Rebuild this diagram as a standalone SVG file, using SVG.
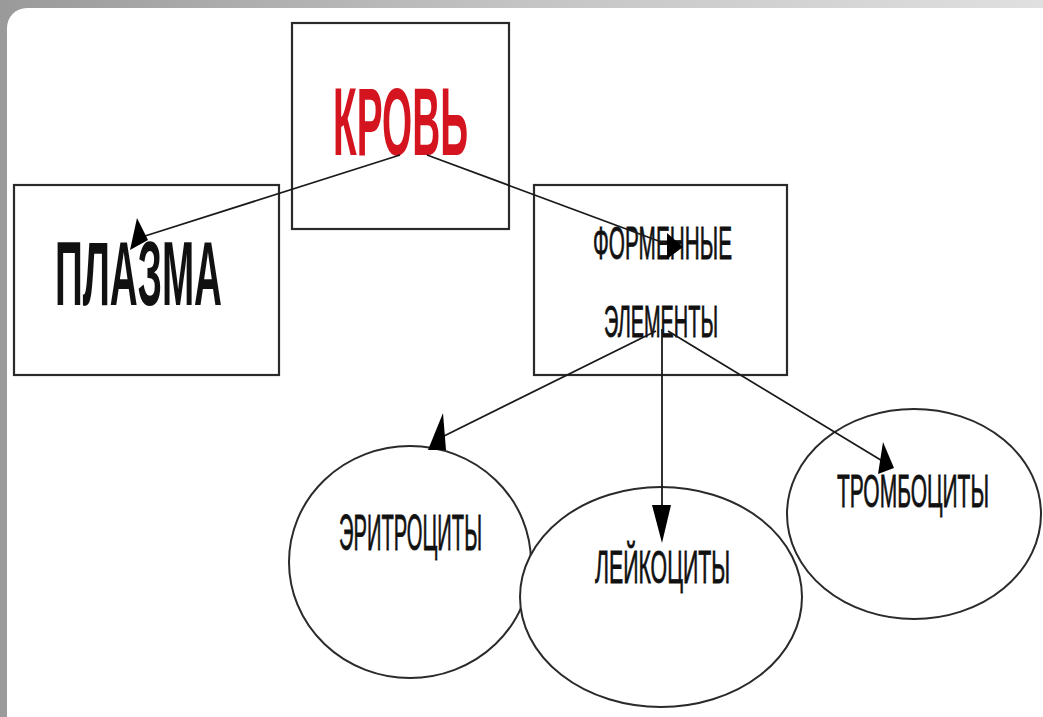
<svg xmlns="http://www.w3.org/2000/svg" width="1043" height="717" viewBox="0 0 1043 717">
  <defs>
    <linearGradient id="frameGrad" x1="0" y1="0" x2="1" y2="0">
      <stop offset="0" stop-color="#9a9a9a"/>
      <stop offset="0.5" stop-color="#c4c4c4"/>
      <stop offset="1" stop-color="#e0e0e0"/>
    </linearGradient>
  </defs>
  <style>
    .box { fill: #ffffff; stroke: #2a2a2a; stroke-width: 2.2; }
    .oval { fill: #ffffff; stroke: #2a2a2a; stroke-width: 2; }
    .lbl { font-family: "Liberation Sans", "DejaVu Sans", sans-serif; fill: #111111; }
    .small { stroke: #111111; stroke-width: 0.8; }
    .big { font-weight: bold; }
    .title { fill: #d4151f; }
    .edge { fill: none; stroke: #1a1a1a; stroke-width: 1.8; }
    .head { fill: #000000; stroke: none; }
  </style>

  <!-- frame -->
  <g id="frame">
    <rect x="0" y="0" width="1043" height="717" fill="url(#frameGrad)"/>
    <rect x="7" y="8" width="1100" height="800" rx="20" ry="20" fill="#ffffff"/>
  </g>

  <!-- nodes -->
  <g id="node-plasma">
    <rect class="box" x="14" y="185" width="265" height="190"/>
    <text class="lbl big" x="55" y="305" font-size="91" textLength="167" lengthAdjust="spacingAndGlyphs">ПЛАЗМА</text>
  </g>

  <g id="node-formed">
    <rect class="box" x="534" y="185" width="253" height="190"/>
    <text class="lbl small" x="593" y="259" font-size="46" textLength="139" lengthAdjust="spacingAndGlyphs">ФОРМЕННЫЕ</text>
    <text class="lbl small" x="604" y="337" font-size="45" textLength="114" lengthAdjust="spacingAndGlyphs">ЭЛЕМЕНТЫ</text>
  </g>

  <g id="node-blood">
    <rect class="box" x="292" y="23" width="217" height="206"/>
    <text class="lbl big title" x="333" y="155" font-size="97" textLength="135" lengthAdjust="spacingAndGlyphs">КРОВЬ</text>
  </g>

  <g id="node-erythro">
    <ellipse class="oval" cx="410" cy="562" rx="121" ry="116"/>
    <text class="lbl small" x="339" y="550" font-size="50" textLength="143" lengthAdjust="spacingAndGlyphs">ЭРИТРОЦИТЫ</text>
  </g>

  <g id="node-thrombo">
    <ellipse class="oval" cx="914" cy="514" rx="127" ry="105"/>
    <text class="lbl small" x="837" y="507" font-size="47" textLength="152" lengthAdjust="spacingAndGlyphs">ТРОМБОЦИТЫ</text>
  </g>

  <g id="node-leuko">
    <ellipse class="oval" cx="661" cy="597" rx="141" ry="110"/>
    <text class="lbl small" x="595" y="583" font-size="46" textLength="135" lengthAdjust="spacingAndGlyphs">ЛЕЙКОЦИТЫ</text>
  </g>

  <!-- connectors -->
  <g id="connectors">
    <line class="edge" x1="400" y1="155" x2="145" y2="236"/>
    <polygon class="head" points="137,218 130,250 148,240"/>

    <line class="edge" x1="427" y1="155" x2="672" y2="246"/>
    <polygon class="head" points="667,233 683,247 667,259"/>

    <line class="edge" x1="656" y1="331" x2="442" y2="437"/>
    <polygon class="head" points="443,413 428,450 446,450"/>

    <line class="edge" x1="662" y1="329" x2="662" y2="515"/>
    <polygon class="head" points="652,505 671,505 662,543"/>

    <line class="edge" x1="668" y1="331" x2="884" y2="462"/>
    <polygon class="head" points="883,442 878,474 894,468"/>
  </g>
</svg>
